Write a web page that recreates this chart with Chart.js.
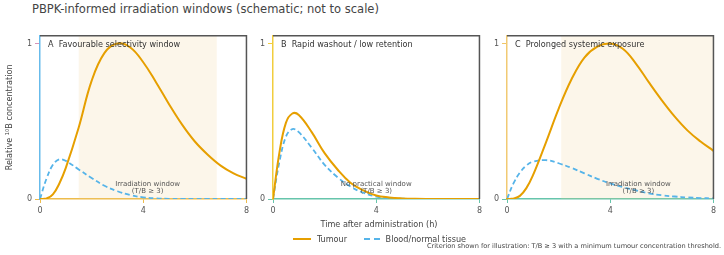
<!DOCTYPE html>
<html>
<head>
<meta charset="utf-8">
<script src="https://cdn.jsdelivr.net/npm/chart.js@4.4.1/dist/chart.umd.min.js"></script>
<style>
body { margin: 0; width: 724px; height: 255px; position: relative; background: #fff; overflow: hidden; font-family: "DejaVu Sans", sans-serif; color: #444; }
#title { position: absolute; left: 32px; top: 2px; font-size: 12px; white-space: nowrap; transform: scaleX(0.96); transform-origin: left top; }
.panel { position: absolute; top: 28px; width: 252px; height: 192px; }
#xtitle { position: absolute; left: 0; width: 758px; top: 219px; font-size: 9px; text-align: center; font-family: "DejaVu Sans Condensed", "DejaVu Sans", sans-serif; }
#legend { position: absolute; left: 293px; top: 233px; font-size: 9px; white-space: nowrap; font-family: "DejaVu Sans Condensed", "DejaVu Sans", sans-serif; }
#legend span { display: inline-block; vertical-align: middle; }
.swatch { width: 18px; height: 0; margin-right: 6px; }
#note { position: absolute; right: 3px; top: 242px; font-size: 6.6px; white-space: nowrap; }
</style>
</head>
<body>
<div id="title">PBPK-informed irradiation windows (schematic; not to scale)</div>
<div class="panel" style="left:0px"><canvas id="chartA"></canvas></div>
<div class="panel" style="left:233px"><canvas id="chartB"></canvas></div>
<div class="panel" style="left:467px"><canvas id="chartC"></canvas></div>
<div id="xtitle">Time after administration (h)</div>
<div id="legend">
  <span class="swatch" style="border-top:2px solid #E69F00"></span><span style="margin-right:14px">Tumour</span>
  <span class="swatch" style="border-top:2px dashed #56B4E9; width:16px"></span><span>Blood/normal tissue</span>
</div>
<div id="note">Criterion shown for illustration: T/B ≥ 3 with a minimum tumour concentration threshold.</div>

<script>
// time after administration (h)
const hours = [0, 0.25, 0.5, 0.75, 1, 1.5, 2, 2.5, 3, 3.5, 4, 4.5, 5, 5.5, 6, 6.5, 7, 7.5, 8];

// A - favourable selectivity
const tumourA = [0, 0.003, 0.03, 0.1, 0.2, 0.46, 0.76, 0.94, 1.0, 0.975, 0.88, 0.75, 0.61, 0.48, 0.37, 0.285, 0.215, 0.165, 0.13];
const bloodA  = [0, 0.13, 0.22, 0.255, 0.245, 0.19, 0.135, 0.085, 0.05, 0.025, 0.011, 0.004, 0.001, 0, 0, 0, 0, 0, 0];

// B - rapid washout
const tumourB = [0, 0.3, 0.49, 0.55, 0.54, 0.43, 0.295, 0.19, 0.105, 0.055, 0.022, 0.01, 0.004, 0.001, 0, 0, 0, 0, 0];
const bloodB  = [0, 0.24, 0.40, 0.45, 0.43, 0.33, 0.22, 0.14, 0.08, 0.04, 0.016, 0.006, 0.002, 0.001, 0, 0, 0, 0, 0];

// C - prolonged systemic exposure
const tumourC = [0, 0.003, 0.02, 0.07, 0.15, 0.36, 0.58, 0.77, 0.91, 0.98, 1.0, 0.965, 0.87, 0.75, 0.635, 0.53, 0.44, 0.37, 0.31];
const bloodC  = [0, 0.1, 0.17, 0.215, 0.24, 0.25, 0.23, 0.2, 0.165, 0.13, 0.1, 0.076, 0.055, 0.036, 0.024, 0.016, 0.01, 0.006, 0.004];

const panelTitles = ['A  Favourable selectivity window', 'B  Rapid washout / low retention', 'C  Prolonged systemic exposure'];
const windowNotes = [['Irradiation window', '(T/B \u2265 3)'], ['No practical window', '(T/B \u2265 3)'], ['Irradiation window', '(T/B \u2265 3)']];
const windowStart = [1.5, null, 2.1];
const windowEnd   = [6.85, null, 8];
const yTicks = [0, 1];
const xTicks = [0, 4, 8];

let toPoints = function (values) {
    return values.map(function (v, i) { return { x: hours[i], y: v }; });
}

const panelPlugin = {
    id: 'panel',
    beforeDatasetsDraw(chart, args, o) {
        const ctx = chart.ctx, a = chart.chartArea, x = chart.scales.x;
        if (o.start !== null) {
            const x0 = x.getPixelForValue(o.start), x1 = x.getPixelForValue(o.end);
            ctx.save();
            ctx.fillStyle = 'rgba(240, 200, 130, 0.17)';
            ctx.fillRect(x0, a.top, x1 - x0, a.bottom - a.top);
            ctx.restore();
        }
    },
    afterDatasetsDraw(chart, args, o) {
        const ctx = chart.ctx, a = chart.chartArea, x = chart.scales.x, y = chart.scales.y;
        ctx.save();
        // top and right frame
        ctx.strokeStyle = '#555';
        ctx.lineWidth = 1.5;
        ctx.beginPath();
        ctx.moveTo(a.left, a.top);
        ctx.lineTo(a.right, a.top);
        ctx.lineTo(a.right, a.bottom);
        ctx.stroke();
        // panel label
        ctx.fillStyle = '#333';
        ctx.font = '9px "DejaVu Sans Condensed", "DejaVu Sans"';
        ctx.textBaseline = 'middle';
        ctx.textAlign = 'left';
        ctx.fillText(o.label, a.left + 8, a.top + 8.5);
        // window note
        ctx.fillStyle = '#555';
        ctx.font = '7px "DejaVu Sans"';
        ctx.textAlign = 'center';
        const nx = x.getPixelForValue(o.noteAt);
        ctx.fillText(o.note[0], nx, y.getPixelForValue(0) - 15);
        ctx.fillText(o.note[1], nx, y.getPixelForValue(0) - 8);
        ctx.restore();
    }
};

let makePanel = function (id, k, tumour, blood, leftColor, bottomColor, tick1Color, noteAt, withTitle) {
    const ctx = document.getElementById(id).getContext('2d');
    return new Chart(ctx, {
        type: 'line',
        data: {
            datasets: [{
                label: 'Tumour',
                data: toPoints(tumour),
                borderColor: '#E69F00',
                borderWidth: 2,
                pointRadius: 0,
                tension: 0.4
            }, {
                label: 'Blood/normal tissue',
                data: toPoints(blood),
                borderColor: '#56B4E9',
                borderWidth: 1.8,
                borderDash: [5, 3],
                pointRadius: 0,
                tension: 0.4
            }]
        },
        options: {
            responsive: true,
            maintainAspectRatio: false,
            animation: false,
            layout: { padding: { top: 5, right: 5, bottom: 0, left: 0 } },
            plugins: {
                legend: { display: false },
                tooltip: { enabled: false },
                panel: { label: panelTitles[k], note: windowNotes[k], start: windowStart[k], end: windowEnd[k], noteAt: noteAt }
            },
            scales: {
                x: {
                    type: 'linear',
                    min: 0,
                    max: 8,
                    afterBuildTicks: function (s) { s.ticks = xTicks.map(function (v) { return { value: v }; }); },
                    afterFit: function (s) { s.height = 21; },
                    border: { color: bottomColor, width: 1.5 },
                    grid: { drawOnChartArea: false, tickLength: 4, color: bottomColor },
                    ticks: { font: { size: 8, family: 'DejaVu Sans' }, color: '#555', padding: 3, maxRotation: 0 }
                },
                y: {
                    min: 0,
                    max: 1.05,
                    afterBuildTicks: function (s) { s.ticks = yTicks.map(function (v) { return { value: v }; }); },
                    afterFit: function (s) { s.width = 40; },
                    border: { color: leftColor, width: 1.5 },
                    grid: { drawOnChartArea: false, tickLength: 5, color: [bottomColor, tick1Color] },
                    ticks: { font: { size: 8, family: 'DejaVu Sans' }, color: '#555', padding: 3 },
                    title: {
                        display: withTitle,
                        text: 'Relative \u00b9\u2070B concentration',
                        font: { size: 9, family: 'DejaVu Sans Condensed' },
                        color: '#444',
                        padding: { top: 4, bottom: 0 }
                    }
                }
            }
        },
        plugins: [panelPlugin]
    });
}

makePanel('chartA', 0, tumourA, bloodA, 'rgba(86,180,233,0.9)', 'rgba(230,159,0,0.7)', 'rgba(204,121,167,0.8)', 4.17, true);
makePanel('chartB', 1, tumourB, bloodB, 'rgba(240,200,40,0.9)', 'rgba(0,158,115,0.6)', 'rgba(240,200,40,0.9)', 4.0, false);
makePanel('chartC', 2, tumourC, bloodC, 'rgba(230,159,0,0.55)', 'rgba(0,158,115,0.6)', 'rgba(230,159,0,0.6)', 5.09, false);
</script>
</body>
</html>
